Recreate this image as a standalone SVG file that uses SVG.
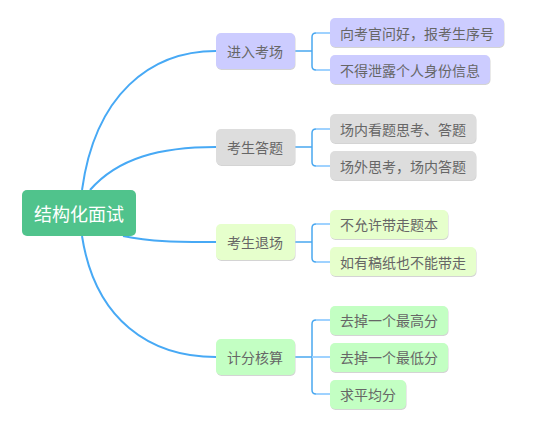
<svg xmlns="http://www.w3.org/2000/svg" width="544" height="433" viewBox="0 0 544 433">
<defs>
<style>
.t{font-family:"Noto Sans CJK SC","Liberation Sans",sans-serif;font-size:14px;fill:#666666;dominant-baseline:central}
.rt{font-family:"Noto Sans CJK SC","Liberation Sans",sans-serif;font-size:18px;fill:#ffffff;dominant-baseline:central}
.main{fill:none;stroke:#47a9f5;stroke-width:2}
.br{fill:none;stroke:#4aa8f0;stroke-width:1.5}
.st{fill:none;stroke:#9fd2ff;stroke-width:2}
.sh{fill:#d4d4d4}
.p{fill:#ccccff}.g{fill:#dddddd}.y{fill:#e6ffcc}.n{fill:#c3ffc3}
</style>
</defs>
<rect width="544" height="433" fill="#ffffff"/>
<g id="connectors">
<path class="main" d="M82,190 C95,95 150,51 216,51"/>
<path class="main" d="M90,190 C118,158 160,147 216,147"/>
<path class="main" d="M123,236 C150,242 180,242 216,242"/>
<path class="main" d="M82,236 C95,320 150,357 216,357"/>
<path class="br" d="M295,51 H312 M316,33 Q312,33 312,37 V66 Q312,70 316,70"/>
<path class="st" d="M316,33 H330 M316,70 H330"/>
<path class="br" d="M295,147 H312 M316,129 Q312,129 312,133 V162 Q312,166 316,166"/>
<path class="st" d="M316,129 H330 M316,166 H330"/>
<path class="br" d="M295,242 H312 M316,224 Q312,224 312,228 V258 Q312,262 316,262"/>
<path class="st" d="M316,224 H330 M316,262 H330"/>
<path class="br" d="M295,357 H330 M316,320 Q312,320 312,324 V390 Q312,394 316,394"/>
<path class="st" d="M316,320 H330 M316,394 H330 M312,357 H330"/>
</g>
<g id="root">
<rect x="22" y="190" width="114" height="46" rx="5" fill="#50c38c"/>
<text class="rt" x="79" y="213" text-anchor="middle">结构化面试</text>
</g>
<g id="n1">
<rect class="sh" x="216.5" y="34" width="79" height="36" rx="5"/>
<rect class="p" x="216" y="33" width="79" height="36" rx="5"/>
<text class="t" x="227" y="51">进入考场</text>
</g>
<g id="n2">
<rect class="sh" x="216.5" y="130" width="79" height="36" rx="5"/>
<rect class="g" x="216" y="129" width="79" height="36" rx="5"/>
<text class="t" x="227" y="147">考生答题</text>
</g>
<g id="n3">
<rect class="sh" x="216.5" y="225" width="79" height="36" rx="5"/>
<rect class="y" x="216" y="224" width="79" height="36" rx="5"/>
<text class="t" x="227" y="242">考生退场</text>
</g>
<g id="n4">
<rect class="sh" x="216.5" y="340" width="79" height="36" rx="5"/>
<rect class="n" x="216" y="339" width="79" height="36" rx="5"/>
<text class="t" x="227" y="357">计分核算</text>
</g>
<g id="n1a">
<rect class="sh" x="330.5" y="19" width="174" height="29" rx="5"/>
<rect class="p" x="330" y="18" width="174" height="29" rx="5"/>
<text class="t" x="340" y="33">向考官问好，报考生序号</text>
</g>
<g id="n1b">
<rect class="sh" x="330.5" y="56" width="160" height="29" rx="5"/>
<rect class="p" x="330" y="55" width="160" height="29" rx="5"/>
<text class="t" x="340" y="70">不得泄露个人身份信息</text>
</g>
<g id="n2a">
<rect class="sh" x="330.5" y="115" width="146" height="29" rx="5"/>
<rect class="g" x="330" y="114" width="146" height="29" rx="5"/>
<text class="t" x="340" y="129">场内看题思考、答题</text>
</g>
<g id="n2b">
<rect class="sh" x="330.5" y="152" width="146" height="29" rx="5"/>
<rect class="g" x="330" y="151" width="146" height="29" rx="5"/>
<text class="t" x="340" y="166">场外思考，场内答题</text>
</g>
<g id="n3a">
<rect class="sh" x="330.5" y="211" width="118" height="29" rx="5"/>
<rect class="y" x="330" y="210" width="118" height="29" rx="5"/>
<text class="t" x="340" y="224">不允许带走题本</text>
</g>
<g id="n3b">
<rect class="sh" x="330.5" y="248" width="146" height="29" rx="5"/>
<rect class="y" x="330" y="247" width="146" height="29" rx="5"/>
<text class="t" x="340" y="262">如有稿纸也不能带走</text>
</g>
<g id="n4a">
<rect class="sh" x="330.5" y="307" width="118" height="29" rx="5"/>
<rect class="n" x="330" y="306" width="118" height="29" rx="5"/>
<text class="t" x="340" y="320">去掉一个最高分</text>
</g>
<g id="n4b">
<rect class="sh" x="330.5" y="344" width="118" height="29" rx="5"/>
<rect class="n" x="330" y="343" width="118" height="29" rx="5"/>
<text class="t" x="340" y="357">去掉一个最低分</text>
</g>
<g id="n4c">
<rect class="sh" x="330.5" y="381" width="76" height="29" rx="5"/>
<rect class="n" x="330" y="380" width="76" height="29" rx="5"/>
<text class="t" x="340" y="394">求平均分</text>
</g>
</svg>
